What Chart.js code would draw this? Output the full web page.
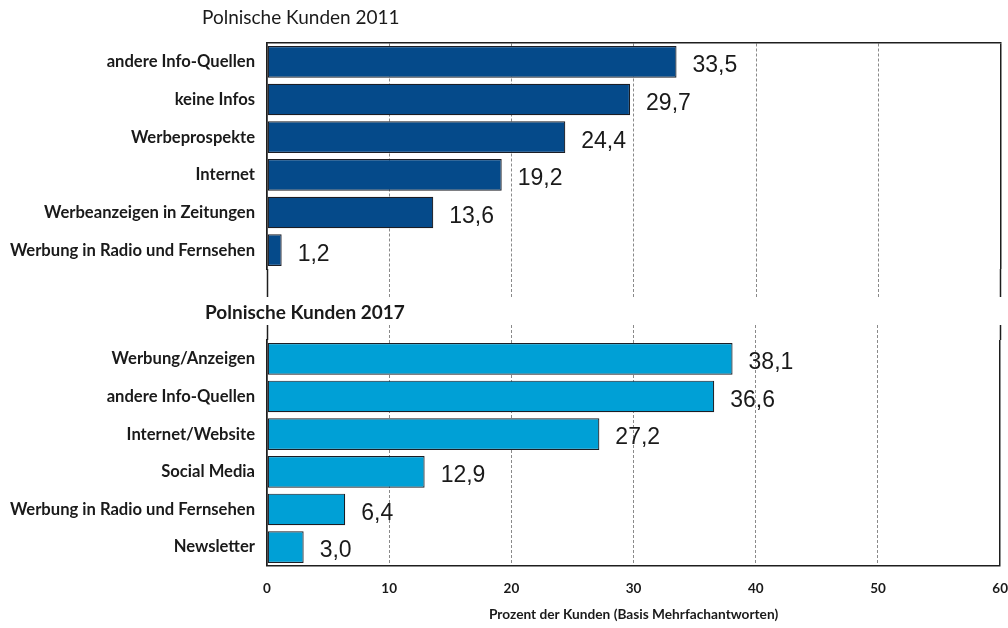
<!DOCTYPE html>
<html lang="de">
<head>
<meta charset="utf-8">
<title>Informationsquellen polnischer Kunden 2011 und 2017</title>
<script src="https://cdn.jsdelivr.net/npm/chart.js@4.4.1/dist/chart.umd.min.js"></script>
<style>
  html, body { margin: 0; padding: 0; background: #ffffff; }
  #wrap { position: relative; width: 1008px; height: 628px; overflow: hidden; }
  canvas { position: absolute; left: 0; }
  #chart2011 { top: 0; }
  #chart2017 { top: 300px; }
  .heading { position: absolute; font-family: Lato, sans-serif; font-size: 19px; color: #1a1a1a; white-space: nowrap; line-height: 24px; }
  #head2011 { left: 202px; top: 5px; font-weight: 400; }
  #head2017 { left: 205px; top: 300px; font-weight: 700; }
</style>
</head>
<body>
<div id="wrap">
  <canvas id="chart2011" width="1008" height="300"></canvas>
  <canvas id="chart2017" width="1008" height="328"></canvas>
  <div class="heading" id="head2011">Polnische Kunden 2011</div>
  <div class="heading" id="head2017">Polnische Kunden 2017</div>
</div>
<script>
// Survey results, percent of customers (multiple answers possible)
const categories2011 = [
  'andere Info-Quellen',
  'keine Infos',
  'Werbeprospekte',
  'Internet',
  'Werbeanzeigen in Zeitungen',
  'Werbung in Radio und Fernsehen'
];
const values2011 = [33.5, 29.7, 24.4, 19.2, 13.6, 1.2];

const categories2017 = [
  'Werbung/Anzeigen',
  'andere Info-Quellen',
  'Internet/Website',
  'Social Media',
  'Werbung in Radio und Fernsehen',
  'Newsletter'
];
const values2017 = [38.1, 36.6, 27.2, 12.9, 6.4, 3.0];

const xTicks = [0, 10, 20, 30, 40, 50, 60];
const axisTitle = 'Prozent der Kunden (Basis Mehrfachantworten)';

const COLOR_2011 = '#054a8a';
const COLOR_2017 = '#00a0d6';
const BAR_EDGE = '#1b1d24';
const AXIS_DARK = '#1e1e1e';
const GRID_GRAY = '#8a8a8a';
const TEXT = '#1a1a1a';
const LABEL_FONT = 'Lato, sans-serif';

const xMin = xTicks[0];
const xMax = xTicks[xTicks.length - 1];
const xStep = xTicks[1] - xTicks[0];

// Outer lines (0 and max) are solid and dark, inner ones dashed gray
const isEdge = (c) => c && c.tick && (c.tick.value === xMin || c.tick.value === xMax);
const gridColor = (c) => isEdge(c) ? AXIS_DARK : GRID_GRAY;
const gridWidth = (c) => isEdge(c) ? 1.5 : 1;
const gridDash = (c) => isEdge(c) ? [] : [3, 2];

const fmt = (v) => v.toFixed(1).replace('.', ',');

// Writes each bar's value just past its end
const valueLabels = {
  id: 'valueLabels',
  afterDatasetsDraw(chart) {
    const ctx = chart.ctx;
    ctx.save();
    ctx.font = '23px "Liberation Sans", Arial, sans-serif';
    ctx.fillStyle = TEXT;
    ctx.textAlign = 'left';
    ctx.textBaseline = 'middle';
    chart.data.datasets.forEach((ds, di) => {
      chart.getDatasetMeta(di).data.forEach((bar, i) => {
        ctx.fillText(fmt(ds.data[i]), bar.x + 16, bar.y + 4);
      });
    });
    ctx.restore();
  }
};

function yAxis() {
  return {
    ticks: {
      color: TEXT,
      padding: 12,
      font: { family: LABEL_FONT, size: 16.6, weight: '700' }
    },
    grid: { display: false, drawTicks: false },
    border: { display: true, color: AXIS_DARK, width: 1.5 },
    afterFit(scale) { scale.width = 267; }
  };
}

function xGridAxis(position, showBorder) {
  return {
    type: 'linear',
    position: position,
    min: xMin,
    max: xMax,
    ticks: { display: false, stepSize: xStep },
    grid: { drawTicks: false, color: gridColor, lineWidth: gridWidth },
    border: { display: showBorder, color: AXIS_DARK, width: 1.5, dash: gridDash }
  };
}

// Short continuation of the grid outside the plot area
function xStubAxis(position, length) {
  return {
    type: 'linear',
    position: position,
    min: xMin,
    max: xMax,
    ticks: { display: false, stepSize: xStep },
    grid: {
      drawOnChartArea: false,
      drawTicks: true,
      tickLength: length,
      tickColor: gridColor,
      tickWidth: gridWidth,
      tickBorderDash: gridDash
    },
    border: { display: false }
  };
}

function barDataset(values, color) {
  return {
    data: values,
    backgroundColor: color,
    borderColor: BAR_EDGE,
    borderWidth: 1.2,
    borderSkipped: false,
    categoryPercentage: 1.0,
    barPercentage: 0.84
  };
}

const common = {
  indexAxis: 'y',
  responsive: false,
  animation: false,
  plugins: { legend: { display: false }, tooltip: { enabled: false }, title: { display: false } }
};

new Chart(document.getElementById('chart2011'), {
  type: 'bar',
  data: { labels: categories2011, datasets: [barDataset(values2011, COLOR_2011)] },
  options: Object.assign({}, common, {
    layout: { padding: { top: 43, bottom: 3, left: 0, right: 7.5 } },
    scales: {
      x: xGridAxis('top', true),
      x2: xStubAxis('bottom', 28),
      y: yAxis()
    }
  }),
  plugins: [valueLabels]
});

// Bottom axis: invisible tick marks keep the labels clear of the plot edge
const xBottom = xGridAxis('bottom', true);
xBottom.grid = {
  drawTicks: true,
  tickLength: 15,
  tickColor: 'rgba(0,0,0,0)',
  color: gridColor,
  lineWidth: gridWidth
};
xBottom.ticks = {
  display: true,
  stepSize: xStep,
  padding: 0,
  color: TEXT,
  font: { family: LABEL_FONT, size: 13.5, weight: '700' }
};
xBottom.title = {
  display: true,
  text: axisTitle,
  color: TEXT,
  font: { family: LABEL_FONT, size: 13.7, weight: '700' },
  padding: { top: 9.4, bottom: 0 }
};

new Chart(document.getElementById('chart2017'), {
  type: 'bar',
  data: { labels: categories2017, datasets: [barDataset(values2017, COLOR_2017)] },
  options: Object.assign({}, common, {
    layout: { padding: { top: 25, bottom: 5, left: 0, right: 7.5 } },
    scales: {
      x: xBottom,
      x2: xStubAxis('top', 15),
      y: yAxis()
    }
  }),
  plugins: [valueLabels]
});
</script>
</body>
</html>
